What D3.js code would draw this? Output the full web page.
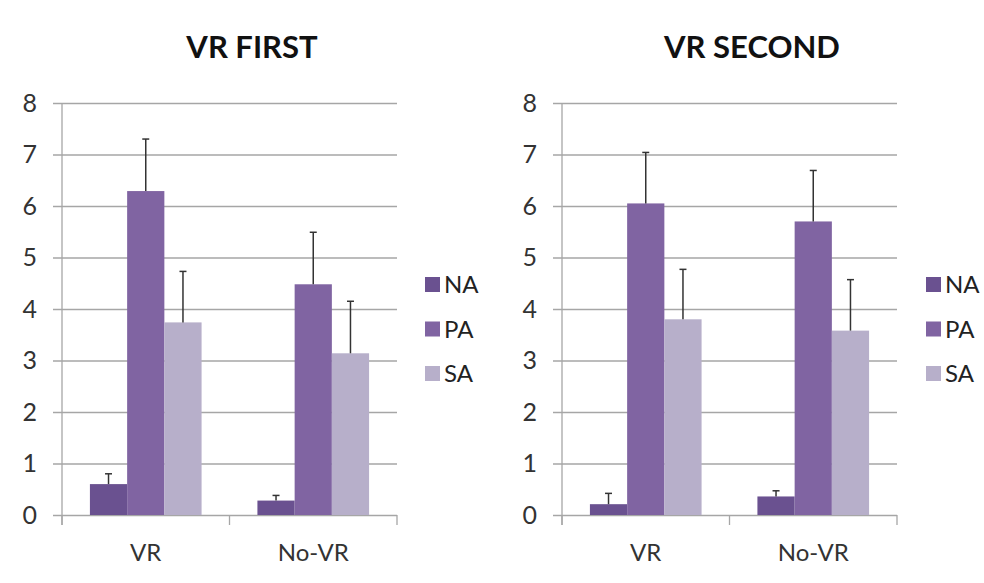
<!DOCTYPE html>
<html>
<head>
<meta charset="utf-8">
<script src="https://cdn.jsdelivr.net/npm/d3@7"></script>
<style>
  body { margin: 0; background: #fff; }
  text { font-family: Lato, "Open Sans", sans-serif; }
</style>
</head>
<body>
<div id="main"></div>
<script>
// data
const titles = ["VR FIRST", "VR SECOND"];
const categories = ["VR", "No-VR"];
const series = ["NA", "PA", "SA"];
const yTicks = [0, 1, 2, 3, 4, 5, 6, 7, 8];

// means per panel: [category][series]
const firstMeans = [[0.6, 6.29, 3.74], [0.28, 4.48, 3.14]];
const firstErrors = [[0.2, 1.01, 0.99], [0.1, 1.01, 1.01]];
const secondMeans = [[0.21, 6.05, 3.8], [0.36, 5.7, 3.58]];
const secondErrors = [[0.21, 0.99, 0.97], [0.11, 0.99, 0.99]];

const colors = ["#6a5190", "#8064a2", "#b7afca"];

const ctx = {
    width: 984,
    height: 583,
    margin: {top: 103, left: 62},
    plotW: 335,
    plotH: 412,
    panelOffset: 500
};

const svg = d3.select("#main").append("svg")
    .attr("width", ctx.width)
    .attr("height", ctx.height);

const color = d3.scaleOrdinal().domain(series).range(colors);

function drawPanel(idx, means, errors) {
    const g = svg.append("g")
        .attr("transform", `translate(${ctx.margin.left + idx * ctx.panelOffset},${ctx.margin.top})`);

    const x0 = d3.scaleBand().domain(categories).range([0, ctx.plotW]).padding(0);
    const x1 = d3.scaleBand().domain(series).range([0, x0.bandwidth()])
        .paddingInner(0).paddingOuter(0.75);
    const y = d3.scaleLinear().domain([0, 8]).range([ctx.plotH, 0]);

    // title
    g.append("text")
        .attr("x", 190)
        .attr("y", -45)
        .attr("text-anchor", "middle")
        .style("font-size", "31px")
        .style("font-weight", "bold")
        .attr("fill", "#111")
        .text(titles[idx]);

    // gridlines + y labels
    const yAxis = d3.axisLeft(y).tickValues(yTicks).tickSize(-(ctx.plotW + 9)).tickPadding(16);
    const ya = g.append("g").attr("transform", "translate(-9,0)").call(yAxis);
    ya.select(".domain").remove();
    ya.selectAll(".tick line").attr("stroke", "#a6a6a6").attr("stroke-width", 1.3);
    ya.selectAll(".tick text")
        .style("font-size", "25px")
        .attr("fill", "#333")
        .attr("font-family", "Lato, 'Open Sans', sans-serif");

    // y axis line
    g.append("line")
        .attr("x1", 0).attr("x2", 0)
        .attr("y1", y(8)).attr("y2", ctx.plotH + 10)
        .attr("stroke", "#a6a6a6").attr("stroke-width", 1.3);

    // category separators
    const bounds = [0, ...categories.map(c => x0(c) + x0.bandwidth())];
    g.selectAll(".sep").data(bounds).enter().append("line")
        .attr("x1", d => d).attr("x2", d => d)
        .attr("y1", ctx.plotH).attr("y2", ctx.plotH + 10)
        .attr("stroke", "#a6a6a6").attr("stroke-width", 1.3);

    // category labels
    g.selectAll(".cat").data(categories).enter().append("text")
        .attr("x", d => x0(d) + x0.bandwidth() / 2)
        .attr("y", ctx.plotH + 46)
        .attr("text-anchor", "middle")
        .style("font-size", "24px")
        .attr("fill", "#333")
        .text(d => d);

    // bars
    categories.forEach((cat, ci) => {
        const grp = g.append("g").attr("transform", `translate(${x0(cat)},0)`);
        const rows = series.map((s, si) => ({s: s, v: means[ci][si], e: errors[ci][si]}));

        grp.selectAll("rect").data(rows).enter().append("rect")
            .attr("x", d => x1(d.s))
            .attr("y", d => y(d.v))
            .attr("width", x1.bandwidth())
            .attr("height", d => ctx.plotH - y(d.v))
            .attr("fill", d => color(d.s));

        // error bars (upper only)
        grp.selectAll(".err").data(rows).enter().append("line")
            .attr("x1", d => x1(d.s) + x1.bandwidth() / 2)
            .attr("x2", d => x1(d.s) + x1.bandwidth() / 2)
            .attr("y1", d => y(d.v))
            .attr("y2", d => y(d.v + d.e))
            .attr("stroke", "#333").attr("stroke-width", 1.5);
        grp.selectAll(".cap").data(rows).enter().append("line")
            .attr("x1", d => x1(d.s) + x1.bandwidth() / 2 - 3.5)
            .attr("x2", d => x1(d.s) + x1.bandwidth() / 2 + 3.5)
            .attr("y1", d => y(d.v + d.e))
            .attr("y2", d => y(d.v + d.e))
            .attr("stroke", "#333").attr("stroke-width", 1.5);
    });

    // legend
    const leg = g.append("g").attr("transform", `translate(${363 + (idx ? 1 : 0)},${174})`);
    const items = leg.selectAll("g").data(series).enter().append("g")
        .attr("transform", (d, i) => `translate(0,${i * 44.5})`);
    items.append("rect")
        .attr("x", 0).attr("y", 0)
        .attr("width", 15).attr("height", 15)
        .attr("fill", d => color(d));
    items.append("text")
        .attr("x", 19)
        .attr("y", 16)
        .style("font-size", "24px")
        .attr("fill", "#222")
        .text(d => d);
}

drawPanel(0, firstMeans, firstErrors);
drawPanel(1, secondMeans, secondErrors);
</script>
</body>
</html>
